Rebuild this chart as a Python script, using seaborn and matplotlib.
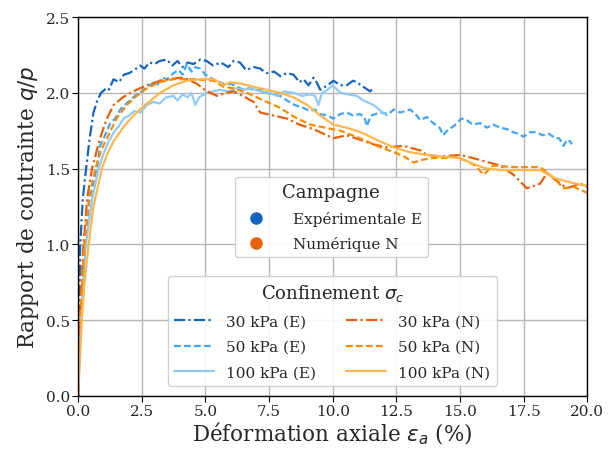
import pandas as pd
import matplotlib
matplotlib.use("Agg")
import matplotlib.pyplot as plt
from matplotlib.lines import Line2D
import seaborn as sns

# Experimental curves (E)
e30_x = [0, 0.03, 0.08, 0.18, 0.31, 0.45, 0.6, 0.75, 0.9, 1.1, 1.2, 1.39, 1.6, 1.8, 2.0, 2.2, 2.44, 2.6, 2.8, 3.0,
         3.2, 3.48, 3.7, 3.9, 4.1, 4.3, 4.53, 4.8, 5.05, 5.3, 5.6, 5.9, 6.1, 6.36, 6.6, 6.9, 7.15, 7.4, 7.7, 7.94,
         8.2, 8.46, 8.7, 8.85, 9.05, 9.25, 9.4, 9.51, 9.8, 10.03, 10.3, 10.55, 10.8, 10.95, 11.2, 11.47, 11.6]
e30_y = [0, 0.5, 1.0, 1.3, 1.5, 1.7, 1.87, 1.95, 2.0, 2.03, 2.02, 2.09, 2.07, 2.12, 2.13, 2.15, 2.18, 2.16, 2.2, 2.19,
         2.21, 2.22, 2.18, 2.21, 2.17, 2.2, 2.19, 2.22, 2.21, 2.18, 2.2, 2.17, 2.21, 2.2, 2.15, 2.17, 2.16, 2.13, 2.14, 2.11,
         2.13, 2.12, 2.07, 2.09, 2.05, 2.10, 2.06, 2.02, 2.05, 2.08, 2.05, 2.05, 2.08, 2.07, 2.04, 2.01, 2.03]

e50_x = [0, 0.05, 0.24, 0.45, 0.73, 0.86, 1.0, 1.26, 1.45, 1.65, 1.9, 2.1, 2.3, 2.5, 2.7, 2.9, 3.1, 3.3, 3.5, 3.74,
         3.95, 4.1, 4.27, 4.45, 4.6, 4.79, 5.0, 5.2, 5.4, 5.58, 5.8, 6.0, 6.23, 6.5, 6.7, 6.9, 7.15, 7.4, 7.7, 7.94,
         8.2, 8.5, 8.85, 9.1, 9.3, 9.51, 9.8, 10.03, 10.3, 10.55, 10.8, 11.08, 11.25, 11.34, 11.5, 11.87, 12.2, 12.4,
         12.65, 12.85, 13.05, 13.3, 13.44, 13.7, 13.95, 14.2, 14.35, 14.49, 14.75, 14.88, 15.05, 15.27, 15.5, 15.8,
         16.06, 16.3, 16.6, 16.85, 17.1, 17.3, 17.5, 17.75, 18.0, 18.25, 18.5, 18.75, 18.9, 19.07, 19.2, 19.33, 19.4]
e50_y = [0, 0.4, 1.0, 1.3, 1.5, 1.65, 1.7, 1.8, 1.83, 1.89, 1.93, 1.96, 1.99, 2.01, 2.04, 2.06, 2.05, 2.1, 2.09, 2.13,
         2.15, 2.12, 2.19, 2.14, 2.17, 2.16, 2.12, 2.1, 2.08, 2.07, 2.05, 2.06, 2.04, 2.02, 2.03, 2.02, 2.02, 2.0, 1.99, 1.98,
         1.95, 1.92, 1.90, 1.88, 1.89, 1.86, 1.85, 1.83, 1.86, 1.87, 1.85, 1.86, 1.84, 1.78, 1.85, 1.87, 1.86, 1.89,
         1.87, 1.88, 1.89, 1.85, 1.82, 1.84, 1.80, 1.77, 1.72, 1.75, 1.78, 1.80, 1.83, 1.82, 1.79, 1.80,
         1.77, 1.79, 1.77, 1.76, 1.74, 1.73, 1.71, 1.74, 1.74, 1.72, 1.73, 1.70, 1.70, 1.65, 1.69, 1.68, 1.66]

e100_x = [0, 0.08, 0.3, 0.55, 0.8, 1.0, 1.2, 1.4, 1.6, 1.78, 2.0, 2.2, 2.45, 2.7, 2.95, 3.2, 3.45, 3.74, 3.9, 4.1,
          4.3, 4.45, 4.6, 4.75, 5.05, 5.3, 5.58, 5.9, 6.2, 6.5, 6.8, 7.15, 7.5, 7.8, 8.1, 8.46, 8.8, 9.1, 9.3, 9.44,
          9.58, 9.8, 10.0, 10.3, 10.6, 10.95, 11.2, 11.6, 11.9, 12.13]
e100_y = [0, 0.5, 1.0, 1.3, 1.5, 1.6, 1.68, 1.74, 1.78, 1.83, 1.85, 1.88, 1.87, 1.92, 1.94, 1.93, 1.97, 1.98, 1.95, 1.99,
          1.97, 2.0, 1.92, 1.97, 2.0, 2.01, 2.02, 2.01, 2.03, 2.02, 2.03, 2.01, 2.0, 1.98, 2.01, 2.0, 1.98, 1.99, 1.98, 1.92,
          2.0, 2.02, 2.05, 2.0, 1.99, 1.98, 1.95, 1.92, 1.88, 1.85]

# Numerical curves (N)
n30_x = [0, 0.06, 0.21, 0.35, 0.54, 0.86, 1.1, 1.39, 1.75, 2.17, 2.7, 3.22, 3.6, 4.0, 4.3, 4.66, 5.05, 5.45, 5.84, 6.1,
         6.36, 6.89, 7.15, 7.67, 8.2, 8.7, 9.25, 10.03, 10.55, 11.08, 11.6, 12.13, 12.78, 13.44, 13.7, 14.23, 15.01,
         15.5, 15.93, 16.58, 17.1, 17.63, 18.15, 18.42, 18.8, 19.2, 19.73, 20.0]
n30_y = [0, 0.5, 1.0, 1.3, 1.5, 1.70, 1.82, 1.92, 1.97, 2.01, 2.05, 2.08, 2.09, 2.10, 2.09, 2.06, 2.01, 1.98, 2.0, 2.01,
         1.99, 1.94, 1.87, 1.85, 1.83, 1.79, 1.76, 1.70, 1.72, 1.69, 1.66, 1.64, 1.65, 1.62, 1.59, 1.58, 1.59,
         1.57, 1.55, 1.52, 1.46, 1.37, 1.40, 1.47, 1.42, 1.37, 1.40, 1.38]

n50_x = [0, 0.07, 0.25, 0.42, 0.67, 0.9, 1.13, 1.5, 1.91, 2.3, 2.7, 3.2, 3.74, 4.53, 5.32, 5.71, 6.1, 6.63, 7.15, 7.94,
         8.5, 9.12, 9.7, 10.3, 11.08, 11.87, 12.39, 12.8, 13.18, 13.57, 13.96, 14.49, 14.75, 15.27, 15.6, 15.93, 16.3,
         17.1, 17.6, 18.15, 18.68, 19.07, 19.46, 20.0]
n50_y = [0, 0.5, 1.0, 1.3, 1.5, 1.62, 1.70, 1.83, 1.92, 1.98, 2.03, 2.07, 2.09, 2.09, 2.08, 2.04, 2.03, 2.0, 1.96, 1.90,
         1.84, 1.79, 1.77, 1.75, 1.70, 1.64, 1.61, 1.58, 1.54, 1.56, 1.57, 1.57, 1.58, 1.55, 1.52, 1.46, 1.52,
         1.51, 1.51, 1.51, 1.44, 1.37, 1.38, 1.34]

n100_x = [0, 0.14, 0.25, 0.41, 0.6, 0.93, 1.15, 1.39, 1.8, 2.17, 2.7, 3.22, 3.74, 4.27, 4.8, 5.32, 5.55, 5.71, 5.97, 6.4,
          6.89, 7.4, 7.94, 8.46, 9.0, 9.51, 10.03, 10.55, 11.1, 11.6, 12.39, 13.0, 13.7, 14.3, 14.96, 15.27, 15.7, 16.06,
          16.6, 17.1, 17.6, 18.15, 18.68, 19.3, 19.86, 20.0]
n100_y = [0, 0.5, 0.75, 1.0, 1.25, 1.5, 1.6, 1.68, 1.78, 1.85, 1.93, 2.0, 2.05, 2.08, 2.09, 2.09, 2.07, 2.05, 2.07, 2.06,
          2.04, 2.02, 2.0, 1.97, 1.92, 1.85, 1.79, 1.77, 1.74, 1.70, 1.64, 1.61, 1.59, 1.58, 1.57, 1.55, 1.52, 1.50,
          1.49, 1.49, 1.49, 1.49, 1.44, 1.41, 1.39, 1.39]

labels = ["30 kPa (E)", "50 kPa (E)", "100 kPa (E)", "30 kPa (N)", "50 kPa (N)", "100 kPa (N)"]
xs = [e30_x, e50_x, e100_x, n30_x, n50_x, n100_x]
ys = [e30_y, e50_y, e100_y, n30_y, n50_y, n100_y]
colors = ["#1565C0", "#42A5F5", "#90CAF9", "#E8600A", "#FB8C00", "#FFB74D"]
dash_dd = (5, 1.5, 1, 1.5)
dash_d = (3, 1.5)
dashes = [dash_dd, dash_d, "", dash_dd, dash_d, ""]

frames = []
for lab, x, y in zip(labels, xs, ys):
    frames.append(pd.DataFrame({"def": x, "qp": y, "curve": lab}))
df = pd.concat(frames, ignore_index=True)

sns.set_style("ticks", {"axes.grid": True, "grid.color": "#b5b5b5"})
plt.rcParams["font.family"] = ["DejaVu Serif"]
plt.rcParams["mathtext.fontset"] = "dejavusans"

fig, ax = plt.subplots(figsize=(6.11, 4.52), dpi=100)
fig.subplots_adjust(left=0.128, right=0.961, bottom=0.122, top=0.960)

sns.lineplot(data=df, x="def", y="qp", hue="curve", style="curve",
             hue_order=labels, style_order=labels,
             palette=dict(zip(labels, colors)), dashes=dict(zip(labels, dashes)),
             sort=False, estimator=None, linewidth=1.6, legend=False, ax=ax)

ax.set_xlim(0, 20)
ax.set_ylim(0, 2.5)
ax.set_xticks([0, 2.5, 5, 7.5, 10, 12.5, 15, 17.5, 20])
ax.set_yticks([0, 0.5, 1.0, 1.5, 2.0, 2.5])
ax.xaxis.set_major_formatter(matplotlib.ticker.FormatStrFormatter("%.1f"))
ax.yaxis.set_major_formatter(matplotlib.ticker.FormatStrFormatter("%.1f"))
ax.tick_params(labelsize=11, length=4, color="black", pad=2)
ax.grid(True, color="#b5b5b5", linewidth=1)
for sp in ax.spines.values():
    sp.set_color("black")
    sp.set_linewidth(1)

ax.set_xlabel(r"Déformation axiale $\varepsilon_a$ (%)", fontsize=15.5, labelpad=1)
ax.set_ylabel(r"Rapport de contrainte $q/p$", fontsize=15.5, labelpad=3)

# legend 1: campaign
camp_h = [Line2D([], [], marker="o", ls="", color="#1565C0", markersize=8),
          Line2D([], [], marker="o", ls="", color="#E8600A", markersize=8)]
leg1 = ax.legend(camp_h, ["Expérimentale E", "Numérique N"], title="Campagne",
                 loc="upper center", bbox_to_anchor=(0.497, 0.577), borderaxespad=0,
                 fontsize=11, title_fontsize=13, handletextpad=1.4, labelspacing=0.65,
                 framealpha=0.9)
ax.add_artist(leg1)

# legend 2: confinement
conf_h = [Line2D([], [], color=c, ls=(0, d) if d else "-", lw=1.6) for c, d in zip(colors, dashes)]
ax.legend(conf_h, labels, title=r"Confinement $\sigma_c$", ncol=2,
          loc="lower center", bbox_to_anchor=(0.499, 0.027), borderaxespad=0,
          fontsize=11, title_fontsize=13, handlelength=2.6, columnspacing=2.0,
          labelspacing=0.75, framealpha=0.9)

plt.savefig("out.png", dpi=100)
